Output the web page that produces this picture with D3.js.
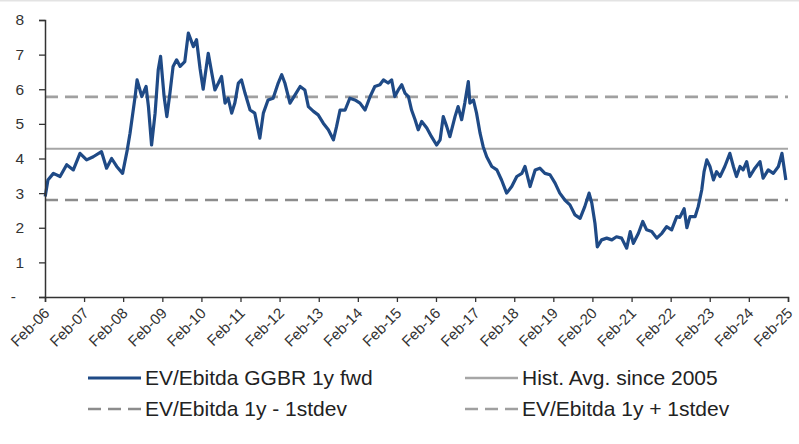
<!DOCTYPE html>
<html>
<head>
<meta charset="utf-8">
<script src="https://cdn.jsdelivr.net/npm/d3@7"></script>
<style>
  html, body { margin: 0; padding: 0; background: #fff; }
  svg { display: block; font-family: "Liberation Sans", Arial, sans-serif; }
</style>
</head>
<body>
<svg id="chart" width="799" height="444"></svg>
<script>
// ---- Data ----
const seriesName = "EV/Ebitda GGBR 1y fwd";
// decimal years
const dates = [
 2006.09,2006.16,2006.30,2006.47,2006.64,2006.81,2006.98,2007.15,2007.32,2007.53,2007.66,2007.79,2007.92,
 2008.07,2008.19,2008.26,2008.39,2008.44,2008.56,2008.67,2008.73,2008.81,2008.90,2008.98,
 2009.04,2009.13,2009.20,2009.28,2009.36,2009.45,2009.54,2009.66,2009.75,2009.88,2009.96,
 2010.05,2010.13,2010.26,2010.35,2010.43,2010.52,2010.60,2010.69,2010.77,2010.86,2010.94,
 2011.03,2011.11,2011.20,2011.33,2011.45,2011.58,2011.67,2011.79,2011.92,
 2012.05,2012.14,2012.22,2012.35,2012.48,2012.61,2012.73,2012.82,2012.95,
 2013.07,2013.20,2013.33,2013.46,2013.54,2013.63,2013.76,2013.88,
 2014.01,2014.14,2014.27,2014.40,2014.52,2014.65,2014.74,2014.86,2014.95,
 2015.03,2015.12,2015.21,2015.29,2015.38,2015.46,2015.55,2015.63,2015.72,2015.85,2015.97,
 2016.10,2016.19,2016.27,2016.36,2016.44,2016.57,2016.65,2016.74,2016.82,2016.91,2016.95,
 2017.04,2017.12,2017.21,2017.29,2017.38,2017.51,2017.64,2017.76,2017.89,
 2018.02,2018.15,2018.28,2018.36,2018.49,2018.62,2018.74,2018.87,
 2019.00,2019.13,2019.25,2019.38,2019.51,2019.64,2019.77,2019.89,
 2020.00,2020.07,2020.15,2020.21,2020.32,2020.45,2020.58,2020.70,2020.83,2020.96,
 2021.05,2021.13,2021.26,2021.37,2021.47,2021.60,2021.73,2021.86,2021.98,
 2022.11,2022.24,2022.32,2022.43,2022.50,2022.58,2022.71,2022.79,2022.88,2022.94,
 2023.01,2023.09,2023.18,2023.26,2023.35,2023.47,2023.60,2023.69,2023.77,2023.86,2023.94,
 2024.03,2024.11,2024.24,2024.37,2024.45,2024.58,2024.71,2024.84,2024.93,2024.98,2025.03
];
const values = [
 2.90,3.38,3.57,3.48,3.82,3.67,4.15,3.96,4.05,4.20,3.72,4.00,3.77,
 3.57,4.25,4.73,5.79,6.27,5.79,6.08,5.50,4.39,5.31,6.56,
 6.95,5.79,5.21,5.89,6.66,6.85,6.66,6.80,7.62,7.23,7.43,
 6.60,6.00,7.04,6.47,5.98,6.18,6.37,5.60,5.74,5.31,5.60,
 6.18,6.27,5.89,5.40,5.31,4.59,5.31,5.69,5.74,
 6.18,6.42,6.18,5.60,5.84,6.08,5.98,5.50,5.36,
 5.26,5.02,4.83,4.54,4.92,5.40,5.40,5.74,
 5.69,5.60,5.40,5.79,6.08,6.13,6.27,6.18,6.27,
 5.79,5.98,6.13,5.89,5.79,5.40,5.12,4.83,5.07,4.88,4.63,
 4.39,4.54,5.21,4.92,4.63,5.21,5.50,5.12,5.60,6.22,5.60,
 5.69,5.31,4.73,4.34,4.05,3.77,3.67,3.38,3.00,
 3.19,3.48,3.57,3.77,3.19,3.67,3.72,3.57,
 3.53,3.29,3.00,2.80,2.66,2.37,2.27,2.61,
 3.00,2.71,2.13,1.45,1.65,1.70,1.65,1.74,1.70,1.41,
 1.89,1.55,1.84,2.18,1.94,1.89,1.70,1.84,2.03,
 1.94,2.32,2.30,2.55,2.00,2.32,2.32,2.61,3.09,3.62,
 3.96,3.77,3.38,3.62,3.48,3.77,4.15,3.77,3.48,3.77,3.67,
 3.91,3.48,3.72,3.91,3.43,3.67,3.57,3.77,4.15,3.77,3.38
];
const histAvg = 4.28;
const minusStdev = 2.80;
const plusStdev = 5.78;
const tickYears = d3.range(2006, 2026);        // Feb-06 ... Feb-25
const yTicks = [0,1,2,3,4,5,6,7,8];
const legendLabels = ["EV/Ebitda GGBR 1y fwd", "Hist. Avg. since 2005",
                      "EV/Ebitda 1y - 1stdev", "EV/Ebitda 1y + 1stdev"];

// ---- Helpers ----
function yearToDate(yv) {
  const yr = Math.floor(yv);
  const a = new Date(yr, 0, 1), b = new Date(yr + 1, 0, 1);
  return new Date(+a + (yv - yr) * (b - a));
}
const data = dates.map((d, i) => ({ date: yearToDate(d), value: values[i] }));

// ---- Layout ----
const svg = d3.select("#chart");
const mLeft = 45, mRight = 788, mTop = 20, mBottom = 297;
const navy = "#1f4a86";

const x = d3.scaleTime()
  .domain([new Date(2006, 1, 1), new Date(2025, 1, 1)])
  .range([mLeft, mRight]);
const y = d3.scaleLinear().domain([0, 8]).range([mBottom, mTop]);

// faint top border
svg.append("line").attr("x1", 0).attr("x2", 799).attr("y1", 0.5).attr("y2", 0.5)
  .attr("stroke", "#e3e3e3").attr("stroke-width", 2);

// reference lines
const [d0, d1] = x.domain();
function refLine(v, color, dash, w) {
  svg.append("line")
    .attr("x1", x(d0)).attr("x2", x(d1))
    .attr("y1", y(v)).attr("y2", y(v))
    .attr("stroke", color).attr("stroke-width", w)
    .attr("stroke-dasharray", dash);
}
refLine(histAvg, "#a6a6a6", null, 2);
refLine(minusStdev, "#8c8c8c", "13,7", 2.6);
refLine(plusStdev, "#a0a0a0", "13,7", 2.6);

// series line
svg.append("path").datum(data)
  .attr("fill", "none").attr("stroke", navy).attr("stroke-width", 3.2)
  .attr("stroke-linejoin", "round")
  .attr("d", d3.line().x(d => x(d.date)).y(d => y(d.value)));

// y axis
const yAxis = svg.append("g").attr("transform", `translate(${mLeft},0)`)
  .call(d3.axisLeft(y).tickValues(yTicks).tickSize(6).tickPadding(15)
    .tickFormat(d => d === 0 ? "-" : d));
yAxis.select(".domain").attr("stroke", "#333").attr("stroke-width", 1.5);
yAxis.selectAll(".tick line").attr("stroke", "#333").attr("stroke-width", 1.3);
yAxis.selectAll(".tick text").attr("font-size", 15.5).attr("fill", "#333")
  .attr("font-family", "'Liberation Sans', Arial, sans-serif");
yAxis.selectAll(".tick text").filter(d => d === 0).attr("dx", -8);

// x axis
const xAxis = svg.append("g").attr("transform", `translate(0,${mBottom})`)
  .call(d3.axisBottom(x).tickValues(tickYears.map(yr => new Date(yr, 1, 1)))
    .tickSize(5).tickFormat(d3.timeFormat("Feb-%y")));
xAxis.select(".domain").attr("stroke", "#333").attr("stroke-width", 1.5);
xAxis.selectAll(".tick line").attr("stroke", "#333").attr("stroke-width", 1.3);
xAxis.selectAll(".tick text")
  .attr("font-size", 15).attr("fill", "#333")
  .attr("font-family", "'Liberation Sans', Arial, sans-serif")
  .attr("text-anchor", "end")
  .attr("y", 0).attr("dy", 0)
  .attr("transform", "translate(5,17) rotate(-45)");

// legend
const legend = svg.append("g").attr("font-size", 21).attr("fill", "#222");
const items = [
  { label: legendLabels[0], color: navy, dash: null, w: 3, lx: 88, ly: 378 },
  { label: legendLabels[1], color: "#a6a6a6", dash: null, w: 2.5, lx: 465, ly: 378 },
  { label: legendLabels[2], color: "#8c8c8c", dash: "13,7", w: 2.6, lx: 88, ly: 409 },
  { label: legendLabels[3], color: "#a0a0a0", dash: "13,7", w: 2.6, lx: 465, ly: 409 }
];
items.forEach(it => {
  legend.append("line").attr("x1", it.lx).attr("x2", it.lx + 53)
    .attr("y1", it.ly).attr("y2", it.ly)
    .attr("stroke", it.color).attr("stroke-width", it.w)
    .attr("stroke-dasharray", it.dash);
  legend.append("text").attr("x", it.lx + 57).attr("y", it.ly)
    .attr("dy", "0.35em").text(it.label);
});
</script>
</body>
</html>
